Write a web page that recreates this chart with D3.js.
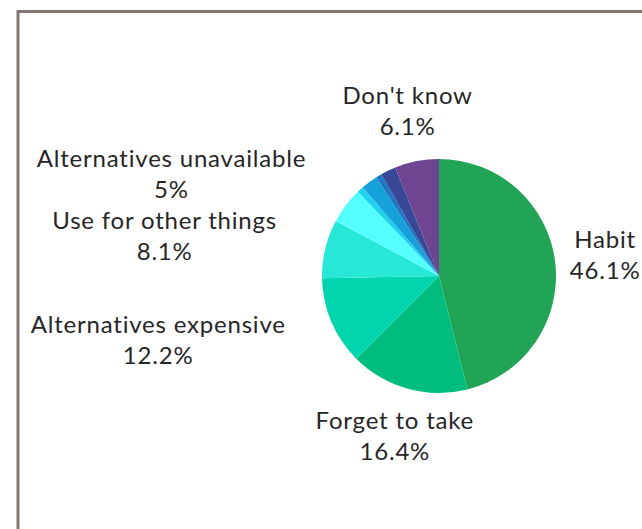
<!DOCTYPE html>
<html>
<head>
<meta charset="utf-8">
<script src="https://cdn.jsdelivr.net/npm/d3@7"></script>
<style>
  html, body { margin: 0; padding: 0; background: #ffffff; }
  svg { display: block; }
</style>
</head>
<body>
<svg id="chart" width="642" height="529"></svg>
<script>
// Reasons given, clockwise from twelve o'clock
const categories = [
  "Habit",
  "Forget to take",
  "Alternatives expensive",
  "Use for other things",
  "Alternatives unavailable",
  "Other reason A",
  "Other reason B",
  "Other reason C",
  "Other reason D",
  "Don't know"
];
const values = [46.1, 16.4, 12.2, 8.1, 5, 0.9, 2.3, 0.8, 2.1, 6.1];
const colors = [
  "#21a456", "#00bd7e", "#00d5ad", "#27e8d6", "#55ffff",
  "#1fd0ef", "#17a1da", "#1f76c2", "#384897", "#6d4590"
];
// Slices smaller than this share are left without a text label
const labelThreshold = 5;

const svg = d3.select("#chart");
const W = 642, H = 529;

// Card frame (runs off the right and bottom of the view)
svg.append("rect")
  .attr("x", 18).attr("y", 11.5)
  .attr("width", W).attr("height", H)
  .attr("fill", "#ffffff")
  .attr("stroke", "#847772")
  .attr("stroke-width", 3);

const cx = 439, cy = 276, radius = 117, labelRadius = 167;

const data = categories.map((c, i) => ({ name: c, value: values[i], color: colors[i] }));

const pie = d3.pie().value(d => d.value).sort(null);
const arcs = pie(data);
const arc = d3.arc().innerRadius(0).outerRadius(radius);
const labelArc = d3.arc().innerRadius(labelRadius).outerRadius(labelRadius);

const g = svg.append("g").attr("transform", `translate(${cx},${cy})`);

g.selectAll("path.slice")
  .data(arcs)
  .join("path")
  .attr("class", "slice")
  .attr("d", arc)
  .attr("fill", d => d.data.color);

const fmt = v => (Math.round(v * 10) / 10).toString() + "%";
const letterSpacing = 0.8;

const labels = g.selectAll("g.label")
  .data(arcs.filter(d => d.data.value >= labelThreshold))
  .join("g")
  .attr("class", "label");

labels.each(function (d) {
  const [x, y] = labelArc.centroid(d);
  const mid = (d.startAngle + d.endAngle) / 2;
  const sel = d3.select(this);
  const lines = [d.data.name, fmt(d.data.value)];
  const texts = sel.selectAll("text")
    .data(lines)
    .join("text")
    .attr("text-anchor", "middle")
    .attr("y", (t, i) => y + (i === 0 ? -8 : 23))
    .attr("font-family", "Lato, 'Open Sans', sans-serif")
    .attr("font-size", 24)
    .attr("letter-spacing", letterSpacing)
    .attr("fill", "#262626")
    .text(t => t);
  // Block is centred on the anchor; on the left flank it is shifted so its right edge meets the anchor
  let blockW = 0;
  texts.each(function () { blockW = Math.max(blockW, this.getComputedTextLength()); });
  const leftFlank = Math.sin(mid) < -0.5;
  const bx = (leftFlank ? x - blockW / 2 : x) + letterSpacing / 2;
  texts.attr("x", bx);
});
</script>
</body>
</html>
